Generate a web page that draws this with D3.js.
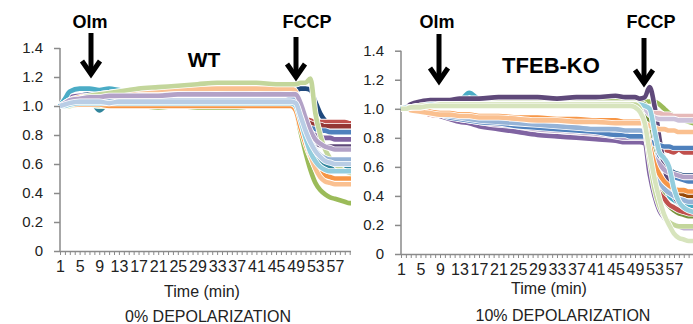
<!DOCTYPE html>
<html><head><meta charset="utf-8">
<script src="https://cdn.jsdelivr.net/npm/d3@7"></script>
<style>body{margin:0;background:#fff}svg{display:block;font-family:Arial,"Liberation Sans",sans-serif}</style>
</head><body><svg id="c" width="693" height="324"></svg>
<script>
// ---------- data ----------
const times = [1,2,3,5,7,9,11,13,15,17,21,25,29,33,37,41,45,47,48,49,50,51,52,53,54,55,56,57,58,59,60,61];
const yTicks = [0,0.2,0.4,0.6,0.8,1.0,1.2,1.4];
const xCategories = d3.range(1, 62);
const xTickLabels = [1,5,9,13,17,21,25,29,33,37,41,45,49,53,57];

const wtColors = ["#1F497D","#C0504D","#943634","#4F81BD","#8064A2","#5F497A","#4BACC6","#31859C","#9BBB59","#F79646","#FAC090","#C3D69B","#95B3D7","#B3A2C7","#93CDDD","#B9CDE5"];
const wtSeries = [
 [1.00,1.02,1.04,1.07,1.08,1.08,1.09,1.09,1.09,1.09, 1.09,1.10,1.10,1.10,1.10,1.10,1.10,1.10, 1.11,1.11,1.12,1.12,1.11,1.03,0.95,0.90, 0.88,0.87,0.86,0.85,0.85,0.84],
 [1.00,1.02,1.03,1.05,1.06,1.06,1.06,1.07,1.07,1.07, 1.07,1.07,1.07,1.07,1.07,1.07,1.07,1.07, 1.07,1.05,0.96,0.91,0.90,0.89,0.89,0.89, 0.89,0.89,0.89,0.89,0.88,0.88],
 [1.00,1.01,1.03,1.04,1.05,1.05,1.05,1.05,1.05,1.05, 1.05,1.06,1.06,1.06,1.06,1.06,1.06,1.06, 1.06,1.03,0.94,0.90,0.88,0.87,0.87,0.86, 0.86,0.86,0.86,0.86,0.86,0.86],
 [1.00,1.02,1.03,1.05,1.05,1.06,1.06,1.06,1.06,1.06, 1.06,1.06,1.07,1.07,1.07,1.07,1.07,1.07, 1.07,1.04,0.93,0.87,0.85,0.84,0.83,0.83, 0.82,0.82,0.82,0.82,0.82,0.82],
 [1.00,1.03,1.06,1.07,1.07,1.07,1.08,1.08,1.08,1.08, 1.08,1.09,1.09,1.09,1.09,1.09,1.09,1.09, 1.09,1.06,0.94,0.86,0.82,0.80,0.79,0.78, 0.78,0.77,0.77,0.77,0.77,0.77],
 [1.00,1.01,1.02,1.03,1.03,1.03,1.03,1.03,1.03,1.03, 1.03,1.03,1.03,1.03,1.03,1.03,1.03,1.03, 1.03,1.00,0.88,0.80,0.76,0.74,0.73,0.72, 0.72,0.72,0.72,0.72,0.72,0.72],
 [1.00,1.05,1.10,1.12,1.12,1.11,1.12,1.11,1.10,1.09, 1.08,1.08,1.07,1.08,1.07,1.08,1.07,1.08, 1.08,1.06,0.94,0.84,0.76,0.70,0.66,0.63, 0.62,0.61,0.60,0.60,0.60,0.60],
 [1.00,1.02,1.04,1.05,1.05,0.97,1.03,1.04,1.04,1.04, 1.04,1.04,1.04,1.04,1.04,1.04,1.04,1.04, 1.04,1.01,0.90,0.80,0.72,0.66,0.62,0.60, 0.58,0.57,0.57,0.57,0.57,0.57],
 [1.00,1.00,1.00,1.01,1.01,1.00,1.00,1.00,1.00,1.00, 0.99,1.00,0.99,0.99,0.99,1.00,1.00,1.00, 1.00,0.97,0.82,0.68,0.56,0.47,0.42,0.39, 0.37,0.36,0.35,0.34,0.33,0.33],
 [1.00,1.00,1.01,1.01,1.01,1.01,1.00,1.00,1.00,1.00, 1.00,1.00,1.00,1.00,1.00,1.00,1.00,1.00, 1.00,0.97,0.85,0.74,0.65,0.58,0.54,0.52, 0.51,0.50,0.50,0.50,0.50,0.50],
 [1.00,1.02,1.04,1.06,1.07,1.08,1.09,1.10,1.10,1.11, 1.11,1.12,1.12,1.12,1.12,1.12,1.12,1.12, 1.12,1.10,0.92,0.78,0.66,0.57,0.51,0.48, 0.47,0.46,0.46,0.46,0.46,0.46],
 [1.00,1.01,1.02,1.05,1.07,1.08,1.09,1.10,1.11,1.12, 1.13,1.14,1.15,1.16,1.16,1.16,1.15,1.15, 1.15,1.15,1.16,1.16,1.19,0.95,0.80,0.70, 0.64,0.60,0.57,0.55,0.54,0.53],
 [1.00,1.01,1.02,1.03,1.04,1.04,1.04,1.04,1.04,1.04, 1.04,1.04,1.04,1.04,1.04,1.04,1.04,1.04, 1.05,1.04,0.95,0.85,0.76,0.70,0.66,0.64, 0.63,0.63,0.63,0.63,0.63,0.63],
 [1.00,1.02,1.04,1.05,1.06,1.06,1.07,1.07,1.07,1.07, 1.07,1.08,1.08,1.08,1.08,1.08,1.08,1.08, 1.08,1.08,1.02,0.92,0.83,0.77,0.74,0.72, 0.71,0.70,0.70,0.70,0.70,0.70],
 [1.00,1.00,1.01,1.02,1.02,1.02,1.02,1.02,1.02,1.02, 1.02,1.02,1.02,1.02,1.02,1.02,1.02,1.02, 1.02,1.00,0.90,0.78,0.68,0.62,0.58,0.56, 0.55,0.55,0.55,0.55,0.55,0.55],
 [1.00,1.01,1.02,1.03,1.03,1.03,1.02,1.03,1.03,1.03, 1.03,1.03,1.03,1.03,1.03,1.03,1.03,1.03, 1.03,1.02,0.93,0.83,0.75,0.69,0.65,0.62, 0.61,0.60,0.60,0.60,0.60,0.60]
];

const koColors = ["#C0504D","#984807","#4BACC6","#1F497D","#4F81BD","#9BBB59","#77933C","#5F497A","#C0504D","#8064A2","#B3A2C7","#4F81BD","#95B3D7","#F79646","#FAC090","#E6B9B8","#CCC1DA","#93CDDD","#C3D69B","#D7E4BD"];
const koSeries = [
 [1.00,1.01,1.03,1.05,1.05,1.05,1.06,1.06,1.07,1.07, 1.07,1.07,1.08,1.07,1.08,1.08,1.08,1.07, 1.07,1.07,1.07,1.06,0.90,0.78,0.74,0.72, 0.71,0.70,0.72,0.70,0.70,0.70],
 [1.00,1.01,1.02,1.04,1.04,1.05,1.05,1.06,1.06,1.06, 1.07,1.07,1.07,1.07,1.07,1.07,1.07,1.07, 1.07,1.07,1.06,1.05,0.85,0.65,0.55,0.50, 0.46,0.44,0.42,0.41,0.40,0.40],
 [1.00,1.01,1.03,1.04,1.05,1.05,1.06,1.06,1.11,1.07, 1.07,1.07,1.07,1.07,1.07,1.08,1.07,1.07, 1.07,1.06,1.06,1.06,0.92,0.70,0.55,0.45, 0.40,0.37,0.35,0.34,0.33,0.33],
 [1.00,1.01,1.02,1.04,1.04,1.05,1.05,1.05,1.06,1.06, 1.06,1.06,1.06,1.06,1.06,1.06,1.06,1.06, 1.06,1.06,1.06,1.05,0.82,0.68,0.62,0.60, 0.58,0.56,0.55,0.54,0.54,0.54],
 [1.00,1.01,1.02,1.03,1.04,1.04,1.05,1.05,1.05,1.05, 1.05,1.05,1.05,1.05,1.05,1.05,1.05,1.05, 1.05,1.05,1.05,1.04,0.85,0.70,0.62,0.58, 0.55,0.53,0.52,0.51,0.50,0.50],
 [1.00,1.01,1.02,1.03,1.03,1.04,1.04,1.04,1.04,1.04, 1.04,1.04,1.05,1.05,1.05,1.05,1.05,1.05, 1.05,1.05,1.05,1.05,1.05,1.05,1.03,1.00, 0.97,0.95,0.93,0.92,0.91,0.90],
 [1.00,1.01,1.01,1.02,1.03,1.03,1.03,1.04,1.04,1.04, 1.04,1.04,1.04,1.04,1.04,1.04,1.04,1.04, 1.04,1.04,1.04,1.03,0.80,0.65,0.50,0.38, 0.33,0.30,0.28,0.27,0.26,0.26],
 [1.00,1.01,1.03,1.05,1.06,1.06,1.06,1.07,1.07,1.07, 1.08,1.08,1.08,1.07,1.08,1.08,1.09,1.08, 1.08,1.08,1.07,1.08,1.15,1.02,0.80,0.60, 0.48,0.40,0.35,0.32,0.30,0.29],
 [1.00,1.00,0.99,0.98,0.96,0.95,0.93,0.92,0.90,0.89, 0.87,0.86,0.84,0.83,0.82,0.81,0.79,0.79, 0.78,0.78,0.78,0.77,0.62,0.50,0.42,0.38, 0.34,0.32,0.30,0.29,0.28,0.28],
 [1.00,1.00,0.99,0.98,0.97,0.95,0.93,0.91,0.90,0.88, 0.86,0.84,0.82,0.81,0.80,0.79,0.78,0.77, 0.77,0.77,0.77,0.76,0.55,0.40,0.30,0.25, 0.22,0.20,0.19,0.18,0.18,0.18],
 [1.00,1.00,0.99,0.98,0.97,0.96,0.95,0.93,0.92,0.91, 0.89,0.88,0.86,0.85,0.84,0.83,0.81,0.80, 0.80,0.80,0.80,0.80,0.72,0.66,0.62,0.58, 0.56,0.55,0.54,0.53,0.53,0.53],
 [1.00,1.00,0.99,0.98,0.97,0.96,0.94,0.93,0.92,0.91, 0.90,0.88,0.87,0.86,0.85,0.84,0.82,0.82, 0.81,0.81,0.81,0.81,0.78,0.76,0.75,0.74, 0.74,0.73,0.73,0.73,0.73,0.73],
 [1.00,1.00,0.99,0.98,0.97,0.96,0.95,0.94,0.93,0.92, 0.91,0.90,0.89,0.88,0.87,0.86,0.86,0.85, 0.85,0.85,0.85,0.84,0.70,0.58,0.50,0.45, 0.42,0.40,0.38,0.37,0.36,0.36],
 [1.00,1.00,0.99,0.99,0.98,0.97,0.97,0.96,0.96,0.95, 0.95,0.94,0.94,0.93,0.93,0.92,0.92,0.91, 0.91,0.91,0.91,0.90,0.75,0.62,0.55,0.50, 0.47,0.45,0.44,0.44,0.43,0.43],
 [1.00,1.00,0.99,0.98,0.97,0.96,0.96,0.95,0.95,0.94, 0.94,0.93,0.92,0.92,0.91,0.91,0.90,0.90, 0.90,0.90,0.90,0.90,0.88,0.87,0.86,0.86, 0.85,0.85,0.84,0.84,0.84,0.84],
 [1.00,1.00,1.01,1.01,1.02,1.02,1.02,1.02,1.02,1.02, 1.02,1.02,1.02,1.02,1.02,1.02,1.02,1.02, 1.03,1.03,1.02,1.00,0.98,0.97,0.97,0.96, 0.96,0.95,0.95,0.95,0.95,0.95],
 [1.00,1.00,1.01,1.02,1.02,1.03,1.03,1.03,1.03,1.03, 1.03,1.03,1.03,1.03,1.03,1.03,1.03,1.03, 1.03,1.03,1.02,1.00,0.96,0.94,0.93,0.93, 0.93,0.93,0.92,0.92,0.92,0.92],
 [1.00,1.01,1.01,1.02,1.03,1.03,1.03,1.03,1.03,1.03, 1.03,1.03,1.03,1.03,1.03,1.03,1.03,1.03, 1.03,1.03,1.03,1.02,1.00,0.85,0.70,0.66, 0.60,0.45,0.36,0.32,0.30,0.29],
 [1.00,1.00,1.01,1.02,1.02,1.03,1.03,1.03,1.03,1.03, 1.03,1.03,1.03,1.03,1.03,1.03,1.03,1.03, 1.03,1.03,1.00,0.88,0.65,0.45,0.33,0.26, 0.22,0.20,0.19,0.19,0.19,0.19],
 [1.00,1.00,1.01,1.01,1.02,1.02,1.02,1.02,1.02,1.02, 1.02,1.02,1.02,1.02,1.02,1.02,1.02,1.02, 1.02,1.01,0.98,0.90,0.70,0.52,0.38,0.27, 0.20,0.14,0.11,0.10,0.09,0.09]
];

// ---------- drawing ----------
const svg = d3.select("#c");
const FONT = "Arial, 'Liberation Sans', sans-serif";
const axisColor = "#8a8a8a";

function panel(cfg){
  const x = d3.scaleLinear().domain([1,61]).range([cfg.x0, cfg.x0 + 60*cfg.step]);
  const y = d3.scaleLinear().domain([0,1.4]).range([cfg.yb, cfg.yt]);
  const clipId = "clip" + cfg.id;
  svg.append("clipPath").attr("id", clipId).append("rect")
     .attr("x", cfg.clipL).attr("y", 0).attr("width", cfg.clipR - cfg.clipL).attr("height", 324);
  const g = svg.append("g").attr("clip-path", `url(#${clipId})`);

  // y axis
  const ya = g.append("g").attr("transform", `translate(${cfg.x0},0)`)
    .call(d3.axisLeft(y).tickValues(yTicks).tickSize(6).tickPadding(11)
      .tickFormat(d => d===0 ? "0" : d3.format(".1f")(d)));
  ya.selectAll("path,line").attr("stroke", axisColor).attr("stroke-width", 1.5);
  ya.select(".domain").attr("d", `M0,${cfg.yt}V${cfg.yb}`);
  ya.selectAll("text").attr("font-family", FONT).attr("font-size", 15).attr("fill", "#222");

  // x axis
  const xa = g.append("g").attr("transform", `translate(0,${cfg.yb})`)
    .call(d3.axisBottom(x).tickValues(xCategories).tickSize(4).tickSizeOuter(0).tickPadding(6)
      .tickFormat(d => xTickLabels.includes(d) ? d : ""));
  xa.selectAll("path,line").attr("stroke", axisColor);
  xa.select(".domain").attr("stroke-width", 1.5);
  xa.selectAll("line").attr("stroke-width", 1);
  xa.selectAll("text").attr("font-family", FONT).attr("font-size", 16).attr("fill", "#222");

  // lines
  const line = d3.line().x((d,i) => x(times[i])).y(d => y(d)).curve(d3.curveMonotoneX);
  const lg = g.append("g");
  cfg.series.forEach((s, k) => {
    lg.append("path").attr("d", line(s)).attr("fill","none")
      .attr("stroke","#fff").attr("stroke-width", 6.2).attr("stroke-linejoin","round");
    lg.append("path").attr("d", line(s)).attr("fill","none")
      .attr("stroke", cfg.colors[k]).attr("stroke-width", 4.6).attr("stroke-linejoin","round");
  });

  // texts
  svg.append("text").attr("x", cfg.titleX).attr("y", cfg.titleY).attr("text-anchor","middle")
     .attr("font-family", FONT).attr("font-weight","bold").attr("font-size", cfg.titleSize).text(cfg.title);
  svg.append("text").attr("x", cfg.timeX).attr("y", cfg.timeY).attr("text-anchor","middle")
     .attr("font-family", FONT).attr("font-size", 16).attr("fill","#222").text("Time (min)");
  svg.append("text").attr("x", cfg.subX).attr("y", cfg.subY).attr("text-anchor","middle")
     .attr("font-family", FONT).attr("font-size", 16).attr("fill","#222").text(cfg.sub);

  cfg.arrows.forEach(a => {
    svg.append("text").attr("x", a.lx).attr("y", 28).attr("text-anchor","middle")
       .attr("font-family", FONT).attr("font-weight","bold").attr("font-size", 18).text(a.label);
    svg.append("path").attr("d", `M${a.x},${a.y0}V${a.y1-3}`).attr("stroke","#000").attr("stroke-width",5).attr("fill","none");
    svg.append("path").attr("d", `M${a.x-9},${a.y1-15}L${a.x},${a.y1-2}L${a.x+9},${a.y1-15}`)
       .attr("stroke","#000").attr("stroke-width",5).attr("fill","none").attr("stroke-linejoin","miter");
  });
}

panel({id:"wt", x0:60, step:4.91, yb:251, yt:48, clipL:0, clipR:351,
  series: wtSeries, colors: wtColors, title:"WT", titleX:204, titleY:67, titleSize:21,
  timeX:202, timeY:297, sub:"0% DEPOLARIZATION", subX:208, subY:322,
  arrows:[{label:"Olm", lx:90, x:91, y0:33, y1:76},{label:"FCCP", lx:307, x:296, y0:37, y1:79}]});

panel({id:"ko", x0:401, step:4.875, yb:254, yt:50.7, clipL:351, clipR:693,
  series: koSeries, colors: koColors, title:"TFEB-KO", titleX:551, titleY:73, titleSize:22,
  timeX:549, timeY:294, sub:"10% DEPOLARIZATION", subX:563, subY:321,
  arrows:[{label:"Olm", lx:437, x:439, y0:34, y1:83},{label:"FCCP", lx:651, x:644, y0:38, y1:85}]});
</script></body></html>
